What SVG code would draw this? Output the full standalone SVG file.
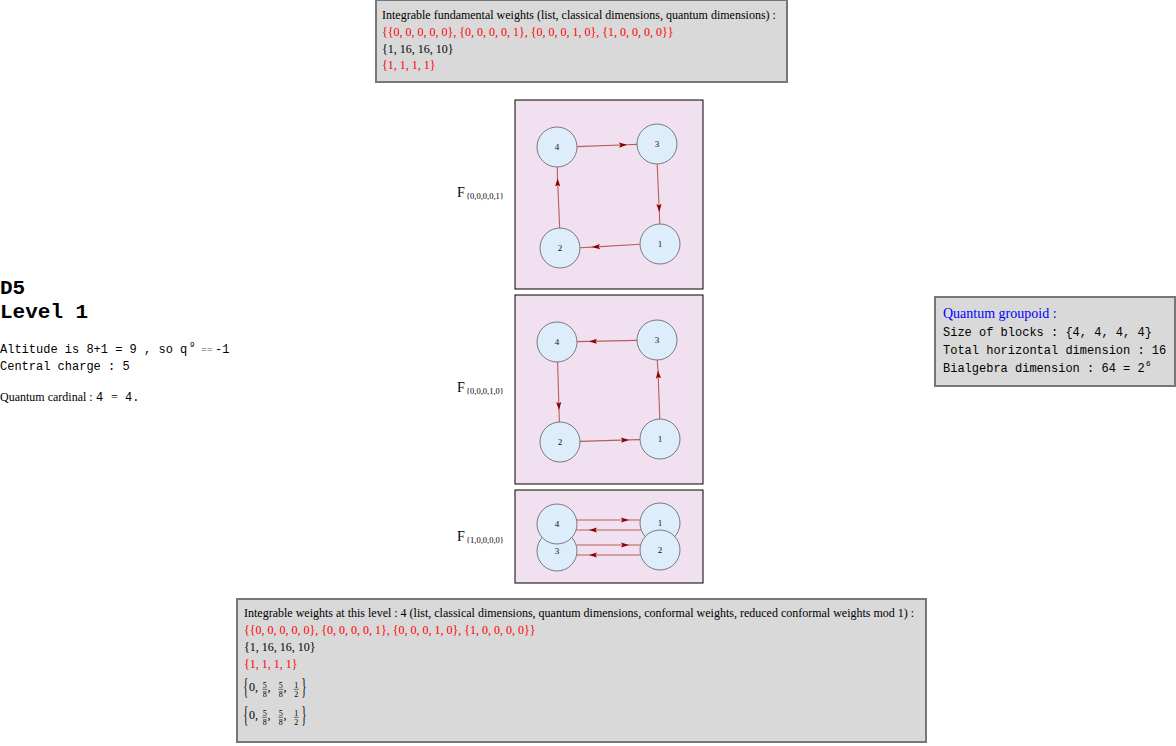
<svg xmlns="http://www.w3.org/2000/svg" width="1176" height="746" viewBox="0 0 1176 746">
<defs>
<style>
.serif{font-family:"Liberation Serif","Times New Roman",serif;}
.mono{font-family:"Liberation Mono","Courier New",monospace;}
.t12{font-size:12px;fill:#000;}
.red{fill:#ff0000;}
.box{fill:#d9d9d9;stroke:#777;stroke-width:2;}
.panel{fill:#f1e0ef;stroke:#000;stroke-width:1;}
.edge{fill:none;stroke:#b85c5c;stroke-width:1.1;marker-mid:url(#arr);}
.node circle{fill:#ddedfc;stroke:#7a7a7a;stroke-width:1;}
.node text{font-family:"Liberation Serif","Times New Roman",serif;font-size:9px;fill:#111;text-anchor:middle;}
.flab{font-family:"Liberation Serif","Times New Roman",serif;fill:#000;}
.num{font-family:"Liberation Serif","Times New Roman",serif;font-size:8px;fill:#000;text-anchor:middle;}
.bar{stroke:#222;stroke-width:0.6;}
</style>
<marker id="arr" markerUnits="userSpaceOnUse" markerWidth="9" markerHeight="7" refX="8" refY="3" orient="auto">
<path d="M0,0.4 L8,3 L0,5.6 L1.5,3 z" fill="#8b0000"/>
</marker>
</defs>
<rect width="1176" height="746" fill="#fff"/>

<!-- top box -->
<g id="fundamental-weights">
<rect class="box" x="376" y="0" width="411" height="82"/>
<text class="serif t12" x="382" y="19">Integrable fundamental weights (list, classical dimensions, quantum dimensions) :</text>
<text class="serif t12 red" x="382" y="36">{{0, 0, 0, 0, 0}, {0, 0, 0, 0, 1}, {0, 0, 0, 1, 0}, {1, 0, 0, 0, 0}}</text>
<text class="serif t12" x="382" y="53">{1, 16, 16, 10}</text>
<text class="serif t12 red" x="382" y="69">{1, 1, 1, 1}</text>
</g>

<!-- left title and info -->
<g id="title">
<text class="mono" font-size="21" font-weight="bold" x="0" y="294">D5</text>
<text class="mono" font-size="21" font-weight="bold" x="0" y="318">Level 1</text>
<text class="mono t12" x="0" y="353">Altitude is 8+1 = 9 , so q</text>
<text class="mono" font-size="7.5" x="190" y="347">9</text>
<text class="serif" font-size="10" fill="#555" x="201" y="353">==</text>
<text class="mono t12" x="215" y="353">-1</text>
<text class="mono t12" x="0" y="370">Central charge : 5</text>
<text class="serif t12" x="0" y="401">Quantum cardinal :</text>
<text class="mono t12" x="96" y="401">4</text>
<text class="serif t12" x="111" y="401">=</text>
<text class="mono t12" x="125" y="401">4.</text>
</g>

<!-- right box -->
<g id="quantum-groupoid">
<rect class="box" x="935" y="297" width="240" height="89"/>
<text class="serif" font-size="14" fill="#0000ff" x="943" y="318">Quantum groupoid :</text>
<text class="mono t12" x="943" y="336">Size of blocks : {4, 4, 4, 4}</text>
<text class="mono t12" x="943" y="354">Total horizontal dimension : 16</text>
<text class="mono t12" x="943" y="372">Bialgebra dimension : 64 = 2</text>
<text class="mono" font-size="7.5" x="1146" y="366">6</text>
</g>

<!-- F labels -->
<g id="label-f1">
<text class="flab" font-size="14" x="457" y="197">F</text>
<text class="flab" font-size="8.5" x="466" y="199">{0,0,0,0,1}</text>
</g>
<g id="label-f2">
<text class="flab" font-size="14" x="457" y="392">F</text>
<text class="flab" font-size="8.5" x="466" y="394">{0,0,0,1,0}</text>
</g>
<g id="label-f3">
<text class="flab" font-size="14" x="457" y="541">F</text>
<text class="flab" font-size="8.5" x="466" y="543">{1,0,0,0,0}</text>
</g>

<!-- panels -->
<rect id="panel1" class="panel" x="515" y="100" width="188" height="189"/>
<rect id="panel2" class="panel" x="515" y="295" width="188" height="189"/>
<rect id="panel3" class="panel" x="515" y="490" width="188" height="93"/>

<!-- connectors -->
<g id="connectors">
<!-- panel 1 -->
<path class="edge" d="M577,146.6 L627,144.8 L637,144.4"/>
<path class="edge" d="M657.2,164 L659.3,212 L659.8,224"/>
<path class="edge" d="M640,244.2 L592,247.1 L580,247.8"/>
<path class="edge" d="M559.7,228 L557.5,178.5 L557.3,167"/>
<!-- panel 2 -->
<path class="edge" d="M637,340.4 L589,341.4 L577,341.6"/>
<path class="edge" d="M557.6,362 L559,410 L559.4,422"/>
<path class="edge" d="M580,441.4 L629,439.9 L640,439.6"/>
<path class="edge" d="M659.8,419 L658,370.5 L657.2,360"/>
<!-- panel 3 -->
<path class="edge" d="M576.6,520 L629,520 L640,520"/>
<path class="edge" d="M641,530 L589,530 L576,530"/>
<path class="edge" d="M576.6,545 L629,545 L640,545"/>
<path class="edge" d="M640,555 L589,555 L576,555"/>
</g>

<!-- nodes panel 1 -->
<g id="p1-n4" class="node"><circle cx="557" cy="147" r="20"/><text x="557" y="150">4</text></g>
<g id="p1-n3" class="node"><circle cx="657" cy="144" r="20"/><text x="657" y="147">3</text></g>
<g id="p1-n2" class="node"><circle cx="560" cy="248" r="20"/><text x="560" y="251">2</text></g>
<g id="p1-n1" class="node"><circle cx="660" cy="244" r="20"/><text x="660" y="247">1</text></g>
<!-- nodes panel 2 -->
<g id="p2-n4" class="node"><circle cx="557" cy="342" r="20"/><text x="557" y="345">4</text></g>
<g id="p2-n3" class="node"><circle cx="657" cy="340" r="20"/><text x="657" y="343">3</text></g>
<g id="p2-n2" class="node"><circle cx="560" cy="442" r="20"/><text x="560" y="445">2</text></g>
<g id="p2-n1" class="node"><circle cx="660" cy="439" r="20"/><text x="660" y="442">1</text></g>
<!-- nodes panel 3 -->
<g id="p3-n3" class="node"><circle cx="557" cy="551" r="20"/><text x="557" y="554">3</text></g>
<g id="p3-n4" class="node"><circle cx="557" cy="524" r="20"/><text x="557" y="527">4</text></g>
<g id="p3-n1" class="node"><circle cx="660" cy="523" r="20"/><text x="660" y="526">1</text></g>
<g id="p3-n2" class="node"><circle cx="660" cy="550" r="20"/><text x="660" y="553">2</text></g>

<!-- bottom box -->
<g id="level-weights">
<rect class="box" x="237" y="599" width="689" height="143"/>
<text class="serif t12" x="244" y="617">Integrable weights at this level : 4 (list, classical dimensions, quantum dimensions, conformal weights, reduced conformal weights mod 1) :</text>
<text class="serif t12 red" x="244" y="634">{{0, 0, 0, 0, 0}, {0, 0, 0, 0, 1}, {0, 0, 0, 1, 0}, {1, 0, 0, 0, 0}}</text>
<text class="serif t12" x="244" y="651">{1, 16, 16, 10}</text>
<text class="serif t12 red" x="244" y="668">{1, 1, 1, 1}</text>
<!-- row 1 -->
<g>
<text class="serif" font-size="23" transform="translate(243.3,694) scale(0.45,1)">{</text>
<text class="serif t12" x="249" y="691">0,</text>
<text class="num" x="264.7" y="687.5">5</text><line class="bar" x1="262.2" y1="689.3" x2="267.2" y2="689.3"/><text class="num" x="264.7" y="696.5">8</text>
<text class="serif t12" x="267.5" y="691">,</text>
<text class="num" x="280.7" y="687.5">5</text><line class="bar" x1="278.2" y1="689.3" x2="283.2" y2="689.3"/><text class="num" x="280.7" y="696.5">8</text>
<text class="serif t12" x="283.5" y="691">,</text>
<text class="num" x="296.3" y="687.5">1</text><line class="bar" x1="293.8" y1="689.3" x2="298.8" y2="689.3"/><text class="num" x="296.3" y="696.5">2</text>
<text class="serif" font-size="23" transform="translate(301.5,694) scale(0.45,1)">}</text>
</g>
<!-- row 2 -->
<g transform="translate(0,28)">
<text class="serif" font-size="23" transform="translate(243.3,694) scale(0.45,1)">{</text>
<text class="serif t12" x="249" y="691">0,</text>
<text class="num" x="264.7" y="687.5">5</text><line class="bar" x1="262.2" y1="689.3" x2="267.2" y2="689.3"/><text class="num" x="264.7" y="696.5">8</text>
<text class="serif t12" x="267.5" y="691">,</text>
<text class="num" x="280.7" y="687.5">5</text><line class="bar" x1="278.2" y1="689.3" x2="283.2" y2="689.3"/><text class="num" x="280.7" y="696.5">8</text>
<text class="serif t12" x="283.5" y="691">,</text>
<text class="num" x="296.3" y="687.5">1</text><line class="bar" x1="293.8" y1="689.3" x2="298.8" y2="689.3"/><text class="num" x="296.3" y="696.5">2</text>
<text class="serif" font-size="23" transform="translate(301.5,694) scale(0.45,1)">}</text>
</g>
</g>
</svg>
